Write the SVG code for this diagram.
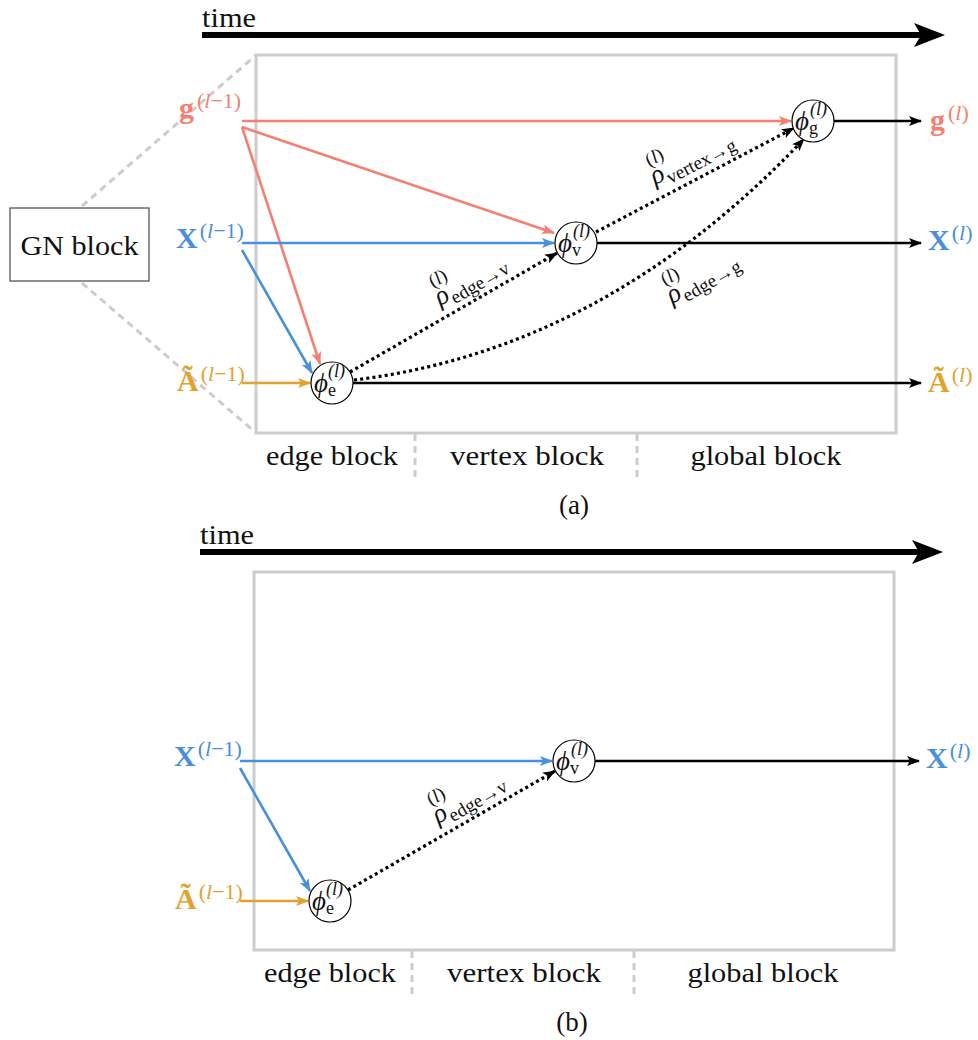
<svg xmlns="http://www.w3.org/2000/svg" width="978" height="1040" viewBox="0 0 978 1040">
<style>
text{font-family:"Liberation Serif","DejaVu Serif",serif;fill:#111}
.lbl{font-size:27px}
.big{font-size:30px}
.it{font-style:italic}
.bf{font-weight:bold}
.sup{font-size:22px;font-weight:normal}
.red{fill:#F47F72}
.blue{fill:#4A8FDA}
.orng{fill:#E3A130}
.frame{fill:none;stroke:#cccccc;stroke-width:3}
.gdash{stroke:#cccccc;stroke-width:3;stroke-dasharray:7 5;fill:none}
.lr{stroke:#F47F72;stroke-width:2.6;fill:none;marker-end:url(#ar)}
.lb{stroke:#4A8FDA;stroke-width:2.6;fill:none;marker-end:url(#ab)}
.lo{stroke:#E3A130;stroke-width:2.6;fill:none;marker-end:url(#ao)}
.lk{stroke:#000;stroke-width:2.6;fill:none;marker-end:url(#ak)}
.dot{stroke:#000;stroke-width:3.2;fill:none;stroke-dasharray:3 3.2;marker-end:url(#ak)}
.nd{fill:#fff;stroke:#000;stroke-width:1.2}
.phi{font-size:27px;font-style:italic}
.sub{font-size:18px}
.rsub{font-size:19px}
</style>
<defs>
<marker id="ar" markerUnits="userSpaceOnUse" markerWidth="14" markerHeight="12" refX="12" refY="5" orient="auto"><path d="M0,0 L13,5 L0,10 L3,5Z" fill="#F47F72"/></marker>
<marker id="ab" markerUnits="userSpaceOnUse" markerWidth="14" markerHeight="12" refX="12" refY="5" orient="auto"><path d="M0,0 L13,5 L0,10 L3,5Z" fill="#4A8FDA"/></marker>
<marker id="ao" markerUnits="userSpaceOnUse" markerWidth="14" markerHeight="12" refX="12" refY="5" orient="auto"><path d="M0,0 L13,5 L0,10 L3,5Z" fill="#E3A130"/></marker>
<marker id="ak" markerUnits="userSpaceOnUse" markerWidth="14" markerHeight="12" refX="12" refY="5" orient="auto"><path d="M0,0 L13,5 L0,10 L3,5Z" fill="#000"/></marker>
</defs>

<!-- ================= Panel (a) ================= -->
<g id="a-time">
<text x="202" y="27" class="lbl" textLength="54" lengthAdjust="spacingAndGlyphs">time</text>
<line x1="202" y1="35" x2="922" y2="35" stroke="#000" stroke-width="6"/>
<path d="M914,23 L945,35 L914,47 L921,35Z" fill="#000"/>
</g>
<rect id="a-frame" x="256" y="55" width="640" height="378" class="frame"/>
<g id="gn-block">
<rect x="10" y="208" width="139" height="73" fill="#fff" stroke="#555" stroke-width="1.3"/>
<text x="79.5" y="255" class="lbl" text-anchor="middle" textLength="118" lengthAdjust="spacingAndGlyphs">GN block</text>
</g>
<g id="gn-zoom">
<line x1="82" y1="206" x2="255" y2="56" class="gdash"/>
<line x1="82" y1="283" x2="255" y2="432" class="gdash"/>
</g>

<g id="a-labels-in">
<text x="179" y="118" class="big bf red">g<tspan class="sup" dx="3" dy="-10">(<tspan class="it">l</tspan>−1)</tspan></text>
<text x="176" y="248" class="big bf blue">X<tspan class="sup" dx="2" dy="-10">(<tspan class="it">l</tspan>−1)</tspan></text>
<text x="177" y="391" class="big bf orng">Ã<tspan class="sup" dx="2" dy="-10">(<tspan class="it">l</tspan>−1)</tspan></text>
</g>
<g id="a-labels-out">
<text x="930" y="130" class="big bf red">g<tspan class="sup" dx="3" dy="-10">(<tspan class="it">l</tspan>)</tspan></text>
<text x="928" y="250" class="big bf blue">X<tspan class="sup" dx="2" dy="-10">(<tspan class="it">l</tspan>)</tspan></text>
<text x="928" y="392" class="big bf orng">Ã<tspan class="sup" dx="2" dy="-10">(<tspan class="it">l</tspan>)</tspan></text>
</g>

<g id="a-connectors">
<line x1="242" y1="121" x2="791" y2="121" class="lr"/>
<line x1="242" y1="127" x2="554" y2="233" class="lr"/>
<line x1="242" y1="127" x2="320" y2="364" class="lr"/>
<line x1="242" y1="243" x2="554" y2="243" class="lb"/>
<line x1="242" y1="250" x2="312" y2="373" class="lb"/>
<line x1="242" y1="383" x2="310" y2="383" class="lo"/>
<line x1="834" y1="121" x2="921" y2="121" class="lk"/>
<line x1="597" y1="243" x2="921" y2="243" class="lk"/>
<line x1="353" y1="383" x2="921" y2="383" class="lk"/>
<line x1="350" y1="372" x2="557" y2="253" class="dot"/>
<line x1="596" y1="232" x2="794" y2="128" class="dot"/>
<path d="M354,380 Q604,350 804,139" class="dot"/>
</g>

<g id="a-phi-e">
<circle cx="332" cy="383" r="21" class="nd"/>
<text x="314" y="392" class="phi">ϕ<tspan class="sub" font-style="normal" dy="4">e</tspan><tspan class="sub" dx="-8" dy="-19">(<tspan class="it">l</tspan>)</tspan></text>
</g>
<g id="a-phi-v">
<circle cx="576" cy="243" r="21" class="nd"/>
<text x="558" y="252" class="phi">ϕ<tspan class="sub" font-style="normal" dy="4">v</tspan><tspan class="sub" dx="-8" dy="-19">(<tspan class="it">l</tspan>)</tspan></text>
</g>
<g id="a-phi-g">
<circle cx="813" cy="121" r="21" class="nd"/>
<text x="795" y="130" class="phi">ϕ<tspan class="sub" font-style="normal" dy="4">g</tspan><tspan class="sub" dx="-8" dy="-19">(<tspan class="it">l</tspan>)</tspan></text>
</g>

<g id="a-rho-ev" transform="translate(440,306) rotate(-30)">
<text x="0" y="0" class="phi">ρ</text>
<text x="14" y="6" class="rsub">edge→v</text>
<text x="3" y="-19" class="rsub">(<tspan class="it">l</tspan>)</text>
</g>
<g id="a-rho-vg" transform="translate(655,185) rotate(-27)">
<text x="0" y="0" class="phi">ρ</text>
<text x="14" y="6" class="rsub">vertex→g</text>
<text x="3" y="-19" class="rsub">(<tspan class="it">l</tspan>)</text>
</g>
<g id="a-rho-eg" transform="translate(672,304) rotate(-30)">
<text x="0" y="0" class="phi">ρ</text>
<text x="14" y="6" class="rsub">edge→g</text>
<text x="3" y="-19" class="rsub">(<tspan class="it">l</tspan>)</text>
</g>

<g id="a-blocks">
<line x1="415" y1="434" x2="415" y2="477" class="gdash"/>
<line x1="637" y1="434" x2="637" y2="477" class="gdash"/>
<text x="332" y="465" class="lbl" text-anchor="middle" textLength="132" lengthAdjust="spacingAndGlyphs">edge block</text>
<text x="527" y="465" class="lbl" text-anchor="middle" textLength="154" lengthAdjust="spacingAndGlyphs">vertex block</text>
<text x="766" y="465" class="lbl" text-anchor="middle" textLength="151" lengthAdjust="spacingAndGlyphs">global block</text>
<text x="574" y="514" class="lbl" text-anchor="middle" font-size="24">(a)</text>
</g>

<!-- ================= Panel (b) ================= -->
<g id="b-time">
<text x="200" y="544" class="lbl" textLength="54" lengthAdjust="spacingAndGlyphs">time</text>
<line x1="200" y1="552" x2="920" y2="552" stroke="#000" stroke-width="6"/>
<path d="M912,540 L943,552 L912,564 L919,552Z" fill="#000"/>
</g>
<rect id="b-frame" x="254" y="572" width="640" height="378" class="frame"/>

<g id="b-labels">
<text x="174" y="766" class="big bf blue">X<tspan class="sup" dx="2" dy="-10">(<tspan class="it">l</tspan>−1)</tspan></text>
<text x="175" y="909" class="big bf orng">Ã<tspan class="sup" dx="2" dy="-10">(<tspan class="it">l</tspan>−1)</tspan></text>
<text x="926" y="768" class="big bf blue">X<tspan class="sup" dx="2" dy="-10">(<tspan class="it">l</tspan>)</tspan></text>
</g>

<g id="b-connectors">
<line x1="240" y1="761" x2="552" y2="761" class="lb"/>
<line x1="240" y1="768" x2="310" y2="891" class="lb"/>
<line x1="240" y1="901" x2="308" y2="901" class="lo"/>
<line x1="595" y1="761" x2="919" y2="761" class="lk"/>
<line x1="348" y1="890" x2="555" y2="771" class="dot"/>
</g>

<g id="b-phi-e">
<circle cx="330" cy="901" r="21" class="nd"/>
<text x="312" y="910" class="phi">ϕ<tspan class="sub" font-style="normal" dy="4">e</tspan><tspan class="sub" dx="-8" dy="-19">(<tspan class="it">l</tspan>)</tspan></text>
</g>
<g id="b-phi-v">
<circle cx="574" cy="761" r="21" class="nd"/>
<text x="556" y="770" class="phi">ϕ<tspan class="sub" font-style="normal" dy="4">v</tspan><tspan class="sub" dx="-8" dy="-19">(<tspan class="it">l</tspan>)</tspan></text>
</g>

<g id="b-rho-ev" transform="translate(438,824) rotate(-30)">
<text x="0" y="0" class="phi">ρ</text>
<text x="14" y="6" class="rsub">edge→v</text>
<text x="3" y="-19" class="rsub">(<tspan class="it">l</tspan>)</text>
</g>

<g id="b-blocks">
<line x1="412" y1="951" x2="412" y2="995" class="gdash"/>
<line x1="634" y1="951" x2="634" y2="995" class="gdash"/>
<text x="330" y="982" class="lbl" text-anchor="middle" textLength="132" lengthAdjust="spacingAndGlyphs">edge block</text>
<text x="524" y="982" class="lbl" text-anchor="middle" textLength="154" lengthAdjust="spacingAndGlyphs">vertex block</text>
<text x="763" y="982" class="lbl" text-anchor="middle" textLength="151" lengthAdjust="spacingAndGlyphs">global block</text>
<text x="572" y="1031" class="lbl" text-anchor="middle" font-size="24">(b)</text>
</g>
</svg>
